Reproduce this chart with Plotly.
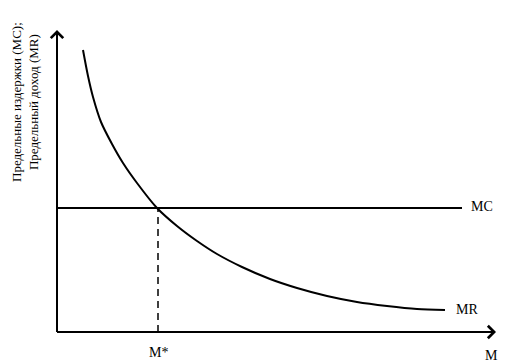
import plotly.graph_objects as go

# Conceptual data (units: quantity M on x, marginal values on y)
mr_x = [26, 31, 36, 44, 55, 66, 80, 100, 120, 140, 160, 185, 213, 240, 270, 300, 330, 360, 388]
mr_y = [282, 256, 235, 210, 188, 169, 149, 124, 106, 91, 78, 65, 53, 44, 36, 30, 26, 23, 22]
mc_level = 124
mc_x_end = 405
m_star = 101
x_axis_end = 439
y_axis_end = 302

labels = {"mc": "MC", "mr": "MR", "mstar": "M*", "m": "M"}
y_title = "Предельные издержки (MC);<br>Предельный доход (MR)"

FONT = "Liberation Serif"
fig = go.Figure()

# MR curve
fig.add_trace(go.Scatter(x=mr_x, y=mr_y, mode="lines",
                         line=dict(color="black", width=2, shape="spline", smoothing=0.8),
                         hoverinfo="skip"))
# MC line
fig.add_trace(go.Scatter(x=[0, mc_x_end], y=[mc_level, mc_level], mode="lines",
                         line=dict(color="black", width=2), hoverinfo="skip"))
# dashed vertical at M*
fig.add_trace(go.Scatter(x=[m_star, m_star], y=[0, mc_level], mode="lines",
                         line=dict(color="black", width=1.5, dash="7px,5px"), hoverinfo="skip"))
# axes lines
fig.add_trace(go.Scatter(x=[0, x_axis_end - 1], y=[0, 0], mode="lines",
                         line=dict(color="black", width=2), hoverinfo="skip"))
fig.add_trace(go.Scatter(x=[0, 0], y=[0, y_axis_end - 1], mode="lines",
                         line=dict(color="black", width=2), hoverinfo="skip"))

# arrow heads
fig.add_annotation(x=x_axis_end, y=0, ax=x_axis_end - 12, ay=0, xref="x", yref="y", axref="x", ayref="y",
                   showarrow=True, arrowhead=4, arrowsize=1.2, arrowwidth=2, arrowcolor="black", text="")
fig.add_annotation(x=0, y=y_axis_end, ax=0, ay=y_axis_end - 12, xref="x", yref="y", axref="x", ayref="y",
                   showarrow=True, arrowhead=4, arrowsize=1.2, arrowwidth=2, arrowcolor="black", text="")

tf = dict(family=FONT, size=14, color="black")
fig.add_annotation(x=mc_x_end + 7, y=mc_level + 2, text=labels["mc"], showarrow=False, xanchor="left", font=tf)
fig.add_annotation(x=mr_x[-1] + 9, y=mr_y[-1] + 1, text=labels["mr"], showarrow=False, xanchor="left", font=tf)
fig.add_annotation(x=m_star, y=-20, text=labels["mstar"], showarrow=False, font=tf)
fig.add_annotation(x=x_axis_end - 5, y=-23, text=labels["m"], showarrow=False, font=tf)
fig.add_annotation(x=-32, y=230, text=y_title, showarrow=False, textangle=-90,
                   font=dict(family=FONT, size=13, color="black"))

fig.update_layout(
    width=508, height=364, margin=dict(l=0, r=0, t=0, b=0),
    paper_bgcolor="white", plot_bgcolor="white", showlegend=False,
    xaxis=dict(range=[-57, 451], visible=False, fixedrange=True),
    yaxis=dict(range=[-32, 332], visible=False, fixedrange=True),
)
fig.write_html("out.html")
